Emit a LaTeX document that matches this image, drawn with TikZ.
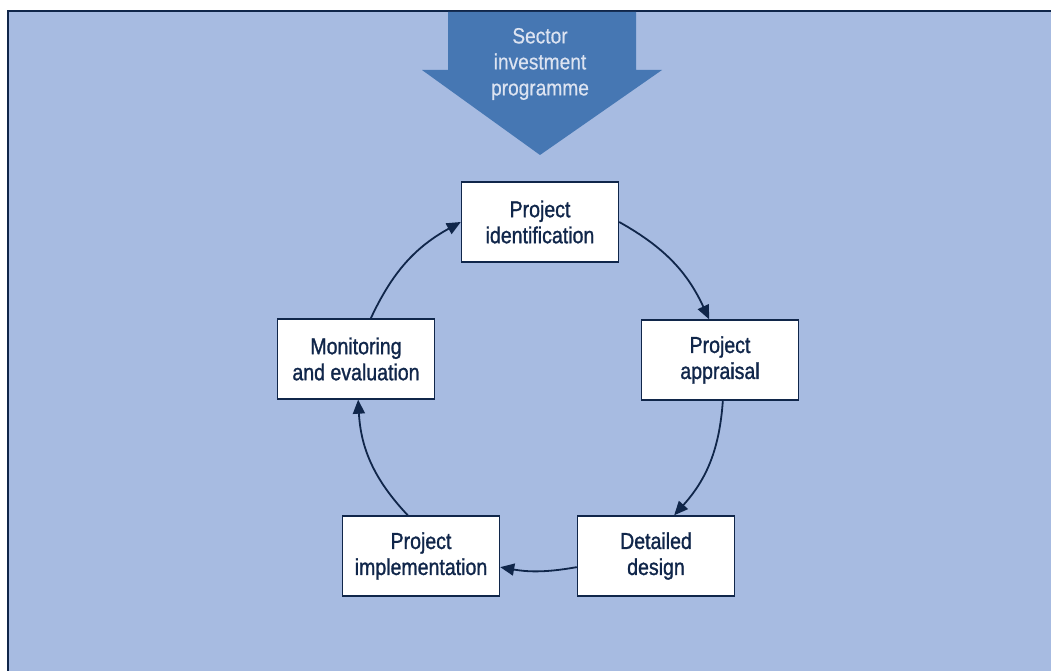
\documentclass[tikz,border=0pt]{standalone}
\usepackage{fontspec}
\setmainfont{Liberation Sans}[FakeStretch=0.85]
\newfontfamily\stagefont{Liberation Sans}[FakeStretch=0.85, FakeBold=1.2]
\newfontfamily\arrowfont{Liberation Sans}[FakeStretch=0.87, FakeBold=0.5]
\usetikzlibrary{arrows.meta}

\definecolor{panelblue}{HTML}{A7BBE1}
\definecolor{arrowblue}{HTML}{4677B3}
\definecolor{paleblue}{HTML}{DCE3F1}
\definecolor{navy}{HTML}{10264A}

\begin{document}
\begin{tikzpicture}[x=1pt, y=-1pt,
    stage/.style={draw=navy, line width=1.4pt, fill=white, text=navy,
      minimum width=157pt, minimum height=80pt, align=center,
      font=\stagefont\fontsize{23}{26}\selectfont},
    flow/.style={draw=navy, line width=1.8pt,
      -{Triangle[length=14pt, width=12pt]}}]
    \useasboundingbox (0,0) rectangle (1051,671);
    \fill[white] (0,0) rectangle (1051,671);
    \fill[panelblue] (8,11) rectangle (1060,680);
    \draw[navy, line width=2pt] (8,680) -- (8,11) -- (1060,11);
    % big input arrow
    \fill[arrowblue] (448,12) -- (636,12) -- (636,70) -- (662,70)
      -- (540,155) -- (422,70) -- (448,70) -- cycle;
    \node[text=paleblue, align=center, font=\arrowfont\fontsize{22}{26}\selectfont]
      (sip) at (540,64) {Sector\\investment\\programme};
    % project cycle
    \node[stage] (ident) at (540,222) {Project\\identification};
    \node[stage] (apprs) at (720,360) {Project\\appraisal};
    \node[stage] (desgn) at (656,556) {Detailed\\design};
    \node[stage] (implm) at (421,556) {Project\\implementation};
    \node[stage] (monit) at (356,359) {Monitoring\\and evaluation};
    \path[flow] (ident.east) to[bend left=18] (apprs.105);
    \path[flow] (apprs.274) to[bend left=19] (desgn.66);
    \path[flow] (desgn.188) to[bend left=10] (implm.352);
    \path[flow] (implm.108) to[bend left=20] (monit.273);
    \path[flow] (monit.70) to[bend left=18] (ident.180);
  \end{tikzpicture}
\end{document}
